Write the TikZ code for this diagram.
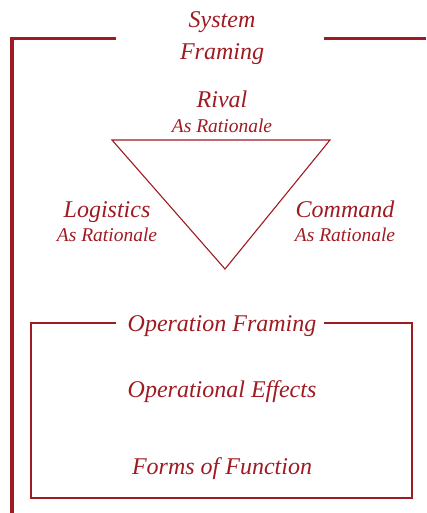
\documentclass[tikz,border=0pt]{standalone}
\usepackage{fontspec}
\setmainfont{Liberation Serif}
\definecolor{wine}{HTML}{9E1B22}
\begin{document}
\begin{tikzpicture}[x=1pt,y=-1pt,
  big/.style={text=wine,font=\itshape\fontsize{24}{26}\selectfont,anchor=base,inner sep=0pt},
  small/.style={text=wine,font=\itshape\fontsize{19.5}{21}\selectfont,anchor=base,inner sep=0pt},
  frame/.style={draw=wine,line width=3.5pt},
  thin/.style={draw=wine,line width=1.1pt}]
\useasboundingbox (0,0) rectangle (426,513);
% outer frame
\coordinate (fb) at (12,513);
\coordinate (fc) at (12,38.5);
\coordinate (fl) at (116,38.5);
\coordinate (fr) at (324,38.5);
\coordinate (fe) at (426,38.5);
\draw[frame] (fb) -- (fc) -- (fl);
\draw[frame] (fr) -- (fe);
\node[big] (sys) at (222,28) {System};
\node[big] (fram) at (222,60) {Framing};
% triangle
\coordinate (tl) at (112,140);
\coordinate (tr) at (330,140);
\coordinate (tb) at (225,269);
\draw[thin,line join=miter] (tl) -- (tr) -- (tb) -- cycle;
\node[big] (rival) at (222,108) {Rival};
\node[small] (rivalr) at (222,132) {As Rationale};
\node[big] (log) at (107,217) {Logistics};
\node[small] (logr) at (107,241) {As Rationale};
\node[big] (cmd) at (345,217) {Command};
\node[small] (cmdr) at (345,241) {As Rationale};
% operation box
\coordinate (b1) at (116,323);
\coordinate (b2) at (31,323);
\coordinate (b3) at (31,498);
\coordinate (b4) at (412,498);
\coordinate (b5) at (412,323);
\coordinate (b6) at (324,323);
\draw[thin] (b1) -- (b2) -- (b3) -- (b4) -- (b5) -- (b6);
\node[big] (opf) at (222,331) {Operation Framing};
\node[big] (ope) at (222,397) {Operational Effects};
\node[big] (fof) at (222,474) {Forms of Function};
\end{tikzpicture}
\end{document}
